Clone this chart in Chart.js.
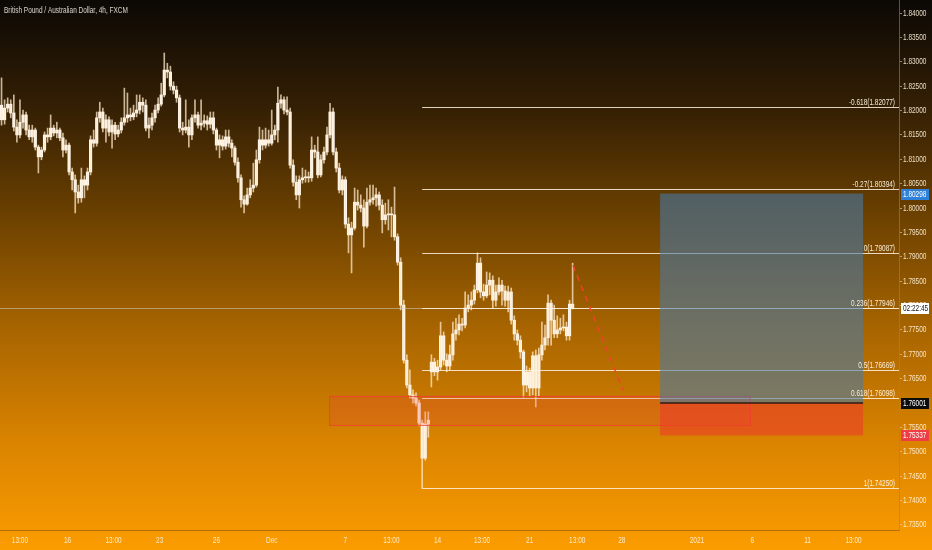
<!DOCTYPE html>
<html>
<head>
<meta charset="utf-8">
<title>GBPAUD 4h</title>
<script src="https://cdn.jsdelivr.net/npm/chart.js@4.4.0/dist/chart.umd.min.js"></script>
<style>
    html, body { margin: 0; padding: 0; background: #000; }
    #wrap { width: 932px; height: 550px; }
</style>
</head>
<body>
<div id="wrap"><canvas id="price-chart" width="932" height="550"></canvas></div>
<script>
const priceCanvas = document.getElementById('price-chart');
const labelFont = "'Liberation Sans', Arial, sans-serif";
const squeeze = 0.72;

// 4h candles, one per index
const opens = [
    1.8211, 1.8181, 1.8205, 1.8213, 1.8195, 1.8166, 1.8150, 1.8176, 1.8191, 1.8160,
    1.8146, 1.8160, 1.8125, 1.8105, 1.8119, 1.8150, 1.8146, 1.8164, 1.8154, 1.8160,
    1.8144, 1.8119, 1.8129, 1.8074, 1.8058, 1.8033, 1.8021, 1.8058, 1.8047, 1.8074,
    1.8140, 1.8133, 1.8185, 1.8197, 1.8164, 1.8181, 1.8156, 1.8170, 1.8152, 1.8160,
    1.8176, 1.8185, 1.8191, 1.8187, 1.8195, 1.8201, 1.8217, 1.8211, 1.8164, 1.8170,
    1.8185, 1.8201, 1.8213, 1.8232, 1.8283, 1.8279, 1.8250, 1.8242, 1.8226, 1.8164,
    1.8160, 1.8166, 1.8150, 1.8185, 1.8191, 1.8170, 1.8174, 1.8179, 1.8172, 1.8185,
    1.8160, 1.8129, 1.8140, 1.8127, 1.8146, 1.8133, 1.8123, 1.8094, 1.8062, 1.8017,
    1.8008, 1.8027, 1.8041, 1.8047, 1.8099, 1.8140, 1.8129, 1.8140, 1.8133, 1.8150,
    1.8160, 1.8215, 1.8222, 1.8201, 1.8197, 1.8088, 1.8053, 1.8027, 1.8058, 1.8062,
    1.8064, 1.8062, 1.8119, 1.8115, 1.8068, 1.8099, 1.8115, 1.8150, 1.8197, 1.8115,
    1.8082, 1.8037, 1.8058, 1.7967, 1.7945, 1.7959, 1.8012, 1.8006, 1.8000, 1.7963,
    1.8012, 1.8017, 1.8021, 1.8027, 1.8006, 1.7976, 1.7986, 1.7988, 1.7986, 1.7941,
    1.7889, 1.7801, 1.7688, 1.7637, 1.7617, 1.7610, 1.7600, 1.7559, 1.7487, 1.7557,
    1.7664, 1.7684, 1.7664, 1.7674, 1.7738, 1.7688, 1.7676, 1.7699, 1.7742, 1.7750,
    1.7762, 1.7760, 1.7795, 1.7801, 1.7811, 1.7832, 1.7887, 1.7828, 1.7820, 1.7842,
    1.7852, 1.7811, 1.7828, 1.7842, 1.7830, 1.7811, 1.7828, 1.7770, 1.7742, 1.7729,
    1.7705, 1.7637, 1.7664, 1.7631, 1.7697, 1.7631, 1.7699, 1.7719, 1.7734, 1.7805,
    1.7770, 1.7742, 1.7750, 1.7754, 1.7756, 1.7738, 1.7803
];
const highs = [
    1.8267, 1.8222, 1.8226, 1.8222, 1.8232, 1.8181, 1.8222, 1.8201, 1.8197, 1.8170,
    1.8170, 1.8164, 1.8129, 1.8125, 1.8156, 1.8164, 1.8191, 1.8170, 1.8176, 1.8164,
    1.8154, 1.8140, 1.8133, 1.8082, 1.8068, 1.8047, 1.8082, 1.8066, 1.8082, 1.8148,
    1.8160, 1.8197, 1.8217, 1.8205, 1.8191, 1.8187, 1.8181, 1.8176, 1.8170, 1.8185,
    1.8246, 1.8236, 1.8205, 1.8211, 1.8232, 1.8232, 1.8226, 1.8222, 1.8185, 1.8195,
    1.8211, 1.8226, 1.8256, 1.8318, 1.8297, 1.8291, 1.8259, 1.8250, 1.8232, 1.8176,
    1.8222, 1.8181, 1.8191, 1.8222, 1.8197, 1.8222, 1.8191, 1.8189, 1.8197, 1.8197,
    1.8164, 1.8150, 1.8148, 1.8160, 1.8160, 1.8140, 1.8127, 1.8103, 1.8068, 1.8025,
    1.8041, 1.8058, 1.8092, 1.8119, 1.8166, 1.8160, 1.8164, 1.8160, 1.8201, 1.8170,
    1.8248, 1.8232, 1.8228, 1.8228, 1.8205, 1.8099, 1.8066, 1.8066, 1.8082, 1.8078,
    1.8074, 1.8146, 1.8129, 1.8146, 1.8109, 1.8125, 1.8166, 1.8215, 1.8205, 1.8123,
    1.8092, 1.8066, 1.8064, 1.7980, 1.7971, 1.8041, 1.8037, 1.8027, 1.8017, 1.8041,
    1.8047, 1.8047, 1.8041, 1.8033, 1.8017, 1.8010, 1.8017, 1.8002, 1.8043, 1.7947,
    1.7898, 1.7811, 1.7699, 1.7668, 1.7627, 1.7621, 1.7606, 1.7565, 1.7582, 1.7582,
    1.7699, 1.7692, 1.7688, 1.7766, 1.7746, 1.7701, 1.7719, 1.7766, 1.7774, 1.7781,
    1.7774, 1.7828, 1.7822, 1.7828, 1.7842, 1.7908, 1.7898, 1.7844, 1.7869, 1.7867,
    1.7861, 1.7842, 1.7857, 1.7852, 1.7840, 1.7840, 1.7836, 1.7779, 1.7750, 1.7738,
    1.7709, 1.7676, 1.7672, 1.7705, 1.7709, 1.7713, 1.7766, 1.7760, 1.7822, 1.7811,
    1.7801, 1.7779, 1.7774, 1.7781, 1.7766, 1.7811, 1.7887
];
const lows = [
    1.8170, 1.8172, 1.8197, 1.8185, 1.8158, 1.8135, 1.8144, 1.8164, 1.8150, 1.8140,
    1.8135, 1.8119, 1.8072, 1.8099, 1.8115, 1.8135, 1.8140, 1.8148, 1.8144, 1.8138,
    1.8105, 1.8113, 1.8068, 1.8037, 1.7990, 1.8010, 1.8012, 1.8021, 1.8037, 1.8068,
    1.8125, 1.8127, 1.8176, 1.8156, 1.8135, 1.8148, 1.8123, 1.8140, 1.8146, 1.8154,
    1.8170, 1.8176, 1.8179, 1.8181, 1.8187, 1.8193, 1.8197, 1.8158, 1.8144, 1.8160,
    1.8176, 1.8195, 1.8209, 1.8228, 1.8267, 1.8242, 1.8234, 1.8217, 1.8156, 1.8150,
    1.8154, 1.8125, 1.8140, 1.8176, 1.8164, 1.8160, 1.8166, 1.8160, 1.8164, 1.8152,
    1.8119, 1.8103, 1.8119, 1.8121, 1.8125, 1.8105, 1.8088, 1.8053, 1.8002, 1.7990,
    1.8006, 1.8021, 1.8033, 1.8043, 1.8092, 1.8119, 1.8123, 1.8127, 1.8129, 1.8140,
    1.8135, 1.8205, 1.8193, 1.8191, 1.8082, 1.8045, 1.8017, 1.8000, 1.8051, 1.8053,
    1.8053, 1.8055, 1.8103, 1.8062, 1.8064, 1.8092, 1.8109, 1.8144, 1.8109, 1.8074,
    1.8031, 1.8027, 1.7959, 1.7908, 1.7867, 1.7955, 1.7996, 1.7992, 1.7920, 1.7959,
    1.8006, 1.8008, 1.8004, 1.7996, 1.7949, 1.7967, 1.7955, 1.7941, 1.7934, 1.7883,
    1.7791, 1.7682, 1.7631, 1.7610, 1.7600, 1.7594, 1.7553, 1.7425, 1.7483, 1.7530,
    1.7633, 1.7656, 1.7647, 1.7668, 1.7678, 1.7664, 1.7668, 1.7688, 1.7729, 1.7740,
    1.7748, 1.7754, 1.7787, 1.7791, 1.7803, 1.7826, 1.7816, 1.7811, 1.7816, 1.7822,
    1.7795, 1.7799, 1.7822, 1.7801, 1.7799, 1.7787, 1.7762, 1.7729, 1.7719, 1.7692,
    1.7612, 1.7623, 1.7615, 1.7617, 1.7592, 1.7615, 1.7688, 1.7709, 1.7719, 1.7719,
    1.7734, 1.7734, 1.7742, 1.7748, 1.7729, 1.7729, 1.7793
];
const closes = [
    1.8181, 1.8205, 1.8213, 1.8195, 1.8166, 1.8150, 1.8176, 1.8191, 1.8160, 1.8146,
    1.8160, 1.8125, 1.8105, 1.8119, 1.8150, 1.8146, 1.8164, 1.8154, 1.8160, 1.8144,
    1.8119, 1.8129, 1.8074, 1.8058, 1.8033, 1.8021, 1.8058, 1.8047, 1.8074, 1.8140,
    1.8133, 1.8185, 1.8197, 1.8164, 1.8181, 1.8156, 1.8170, 1.8152, 1.8160, 1.8176,
    1.8185, 1.8191, 1.8187, 1.8195, 1.8201, 1.8217, 1.8211, 1.8164, 1.8170, 1.8185,
    1.8201, 1.8213, 1.8232, 1.8283, 1.8279, 1.8250, 1.8242, 1.8226, 1.8164, 1.8160,
    1.8166, 1.8150, 1.8185, 1.8191, 1.8170, 1.8174, 1.8179, 1.8172, 1.8185, 1.8160,
    1.8129, 1.8140, 1.8127, 1.8146, 1.8133, 1.8123, 1.8094, 1.8062, 1.8017, 1.8008,
    1.8027, 1.8041, 1.8047, 1.8099, 1.8140, 1.8129, 1.8140, 1.8133, 1.8150, 1.8160,
    1.8215, 1.8222, 1.8201, 1.8197, 1.8088, 1.8053, 1.8027, 1.8058, 1.8062, 1.8064,
    1.8062, 1.8119, 1.8115, 1.8068, 1.8099, 1.8115, 1.8150, 1.8197, 1.8115, 1.8082,
    1.8037, 1.8058, 1.7967, 1.7945, 1.7959, 1.8012, 1.8006, 1.8000, 1.7963, 1.8012,
    1.8017, 1.8021, 1.8027, 1.8006, 1.7976, 1.7986, 1.7988, 1.7986, 1.7941, 1.7889,
    1.7801, 1.7688, 1.7637, 1.7617, 1.7610, 1.7600, 1.7559, 1.7487, 1.7557, 1.7565,
    1.7684, 1.7664, 1.7674, 1.7738, 1.7688, 1.7676, 1.7699, 1.7742, 1.7750, 1.7762,
    1.7760, 1.7795, 1.7801, 1.7811, 1.7832, 1.7887, 1.7828, 1.7820, 1.7842, 1.7852,
    1.7811, 1.7828, 1.7842, 1.7830, 1.7811, 1.7828, 1.7770, 1.7742, 1.7729, 1.7705,
    1.7637, 1.7664, 1.7631, 1.7697, 1.7631, 1.7699, 1.7719, 1.7734, 1.7805, 1.7770,
    1.7742, 1.7750, 1.7754, 1.7756, 1.7738, 1.7803, 1.7795
];

// axis ticks
const timeTickIndex = [6, 21.5, 36.5, 51.5, 70, 88, 112, 127, 142, 156.5, 172, 187.5, 202, 226.5, 244.5, 262.5, 277.5];
const timeTickText = ['13:00', '16', '13:00', '23', '26', 'Dec', '7', '13:00', '14', '13:00', '21', '13:00', '28', '2021', '6', '11', '13:00'];
const priceTicks = [1.735, 1.740, 1.745, 1.750, 1.755, 1.760, 1.765, 1.770, 1.775, 1.780, 1.785,
    1.790, 1.795, 1.800, 1.805, 1.810, 1.815, 1.820, 1.825, 1.830, 1.835, 1.840];

// fib retracement drawn from the low candle
const fibRatios = ['-0.618', '-0.27', '0', '0.236', '0.5', '0.618', '1'];
const fibPrices = [1.82077, 1.80394, 1.79087, 1.77946, 1.76669, 1.76098, 1.74250];
const fibStartIndex = 137;

// demand zone
const zoneIndex = [106.7, 243.8];
const zonePrices = [1.7615, 1.7555];

// long position tool
const positionIndex = [214.5, 280.6];
const targetPrice = 1.80298;
const entryPrice = 1.76001;
const stopPrice = 1.75337;

// projected move
const projIndex = [186.1, 202.4];
const projPrices = [1.7883, 1.7627];

// boxes on the price axis
const markPrices = [targetPrice, closes[closes.length - 1], entryPrice, stopPrice];
const markTexts = ['1.80298', '02:22:45', '1.76001', '1.75337'];
const markStyles = [
    { bg: '#2f80d8', fg: '#ffffff' },
    { bg: '#ffffff', fg: '#131313' },
    { bg: '#0c0c0c', fg: '#ffffff' },
    { bg: '#ee3d45', fg: '#ffffff' }
];

const wickData = lows.map((low, i) => ({ x: i, y: [low, highs[i]] }));
const bodyData = opens.map((open, i) => ({ x: i, y: [open, closes[i]] }));

// squeezed text, the screenshot fonts are narrow
function narrowText(ctx, text, x, y, align) {
    ctx.save();
    ctx.translate(x, y);
    ctx.scale(squeeze, 1);
    ctx.textAlign = align;
    ctx.fillText(text, 0, 0);
    ctx.restore();
}

// gradient backdrop
const backdrop = {
    id: 'backdrop',
    beforeDraw(chart) {
        const ctx = chart.ctx;
        const g = ctx.createLinearGradient(0, 0, 0, chart.height);
        g.addColorStop(0, '#0b0805');
        g.addColorStop(0.2, '#352004');
        g.addColorStop(0.4, '#6e4200');
        g.addColorStop(0.6, '#a86500');
        g.addColorStop(0.8, '#d98300');
        g.addColorStop(1, '#fb9c00');
        ctx.save();
        ctx.fillStyle = g;
        ctx.fillRect(0, 0, chart.width, chart.height);
        ctx.restore();
    }
};

// drawings on top of the candles
const drawings = {
    id: 'drawings',
    afterDatasetsDraw(chart) {
        const ctx = chart.ctx;
        const xs = chart.scales.x;
        const ys = chart.scales.y;
        const area = chart.chartArea;
        ctx.save();
        ctx.beginPath();
        ctx.rect(area.left, area.top, area.right - area.left, area.bottom - area.top);
        ctx.clip();

        // last price line
        const lastY = Math.round(ys.getPixelForValue(closes[closes.length - 1])) + 0.5;
        ctx.strokeStyle = 'rgba(215, 205, 195, 0.55)';
        ctx.lineWidth = 1;
        ctx.beginPath();
        ctx.moveTo(area.left, lastY);
        ctx.lineTo(area.right, lastY);
        ctx.stroke();

        // fib levels
        const fibX = xs.getPixelForValue(fibStartIndex);
        ctx.strokeStyle = 'rgba(255, 243, 225, 0.85)';
        for (let i = 0; i < fibPrices.length; i++) {
            const y = Math.round(ys.getPixelForValue(fibPrices[i])) + 0.5;
            ctx.beginPath();
            ctx.moveTo(fibX, y);
            ctx.lineTo(area.right, y);
            ctx.stroke();
        }

        // demand zone
        const zx1 = xs.getPixelForValue(zoneIndex[0]);
        const zx2 = xs.getPixelForValue(zoneIndex[1]);
        const zy1 = ys.getPixelForValue(zonePrices[0]);
        const zy2 = ys.getPixelForValue(zonePrices[1]);
        ctx.fillStyle = 'rgba(242, 54, 69, 0.2)';
        ctx.fillRect(zx1, zy1, zx2 - zx1, zy2 - zy1);
        ctx.strokeStyle = 'rgba(242, 60, 50, 0.75)';
        ctx.strokeRect(Math.round(zx1) + 0.5, Math.round(zy1) + 0.5, Math.round(zx2 - zx1), Math.round(zy2 - zy1));

        // position: profit and loss boxes
        const px1 = xs.getPixelForValue(positionIndex[0]);
        const px2 = xs.getPixelForValue(positionIndex[1]);
        const ty = ys.getPixelForValue(targetPrice);
        const ey = ys.getPixelForValue(entryPrice);
        const sy = ys.getPixelForValue(stopPrice);
        ctx.fillStyle = 'rgba(70, 122, 170, 0.58)';
        ctx.fillRect(px1, ty, px2 - px1, ey - ty);
        ctx.fillStyle = 'rgba(236, 62, 42, 0.6)';
        ctx.fillRect(px1, ey, px2 - px1, sy - ey);
        ctx.strokeStyle = 'rgba(35, 20, 10, 0.9)';
        ctx.lineWidth = 1.5;
        ctx.beginPath();
        ctx.moveTo(px1, ey);
        ctx.lineTo(px2, ey);
        ctx.stroke();

        // projected path
        ctx.strokeStyle = 'rgba(240, 64, 48, 0.95)';
        ctx.lineWidth = 1.5;
        ctx.setLineDash([6, 5]);
        ctx.beginPath();
        ctx.moveTo(xs.getPixelForValue(projIndex[0]), ys.getPixelForValue(projPrices[0]));
        ctx.lineTo(xs.getPixelForValue(projIndex[1]), ys.getPixelForValue(projPrices[1]));
        ctx.stroke();
        ctx.setLineDash([]);

        // fib labels above everything
        ctx.fillStyle = 'rgba(255, 243, 225, 0.95)';
        ctx.font = '9px ' + labelFont;
        ctx.textBaseline = 'bottom';
        for (let i = 0; i < fibPrices.length; i++) {
            const y = Math.round(ys.getPixelForValue(fibPrices[i]));
            narrowText(ctx, `${fibRatios[i]}(${fibPrices[i].toFixed(5)})`, area.right - 4, y, 'right');
        }
        ctx.restore();
    },
    afterDraw(chart) {
        const ctx = chart.ctx;
        const xs = chart.scales.x;
        const ys = chart.scales.y;
        const right = chart.chartArea.right;
        const bottom = chart.chartArea.bottom;
        ctx.save();
        ctx.font = '9px ' + labelFont;
        ctx.textBaseline = 'middle';

        // symbol title
        ctx.fillStyle = 'rgba(230, 226, 218, 0.92)';
        narrowText(ctx, 'British Pound / Australian Dollar, 4h, FXCM', 4, 11, 'left');

        // axis labels from the scale ticks
        ctx.fillStyle = 'rgba(255, 242, 220, 0.9)';
        xs.ticks.forEach((t, i) => {
            narrowText(ctx, timeTickText[i], xs.getPixelForValue(t.value), bottom + 11, 'center');
        });
        ys.ticks.forEach(t => {
            narrowText(ctx, t.value.toFixed(5), right + 4, ys.getPixelForValue(t.value), 'left');
        });

        // price axis boxes
        for (let i = 0; i < markPrices.length; i++) {
            const y = Math.round(ys.getPixelForValue(markPrices[i]));
            ctx.fillStyle = markStyles[i].bg;
            ctx.fillRect(right + 2, y - 5, 28, 11);
            ctx.fillStyle = markStyles[i].fg;
            narrowText(ctx, markTexts[i], right + 4, y + 0.5, 'left');
        }
        ctx.restore();
    }
};

let priceChart = new Chart(priceCanvas, {
    type: 'bar',
    data: {
        datasets: [{
            label: 'wicks',
            data: wickData,
            backgroundColor: 'rgba(255, 232, 200, 0.75)',
            barThickness: 1,
            grouped: false,
            minBarLength: 1
        }, {
            label: 'bodies',
            data: bodyData,
            backgroundColor: '#fffaf2',
            barThickness: 2.5,
            grouped: false,
            minBarLength: 1
        }]
    },
    options: {
        responsive: false,
        animation: false,
        devicePixelRatio: 1,
        layout: { padding: 0 },
        scales: {
            x: {
                type: 'linear',
                offset: false,
                min: -0.5,
                max: 292.3,
                grid: { display: false, drawTicks: false, offset: false },
                border: { display: true, color: 'rgba(170, 105, 15, 0.9)' },
                afterBuildTicks: s => { s.ticks = timeTickIndex.map(v => ({ value: v })); },
                afterFit: s => { s.height = 20; },
                ticks: { display: false, autoSkip: false, maxRotation: 0 }
            },
            y: {
                position: 'right',
                min: 1.73397,
                max: 1.84267,
                grid: { drawOnChartArea: false, tickLength: 3, tickColor: 'rgba(230, 215, 195, 0.6)' },
                border: { display: true, color: 'rgba(150, 130, 110, 0.6)' },
                afterBuildTicks: s => { s.ticks = priceTicks.map(v => ({ value: v })); },
                afterFit: s => { s.width = 33; },
                ticks: { display: false }
            }
        },
        plugins: {
            legend: { display: false },
            tooltip: { enabled: false }
        }
    },
    plugins: [backdrop, drawings]
});
</script>
</body>
</html>
